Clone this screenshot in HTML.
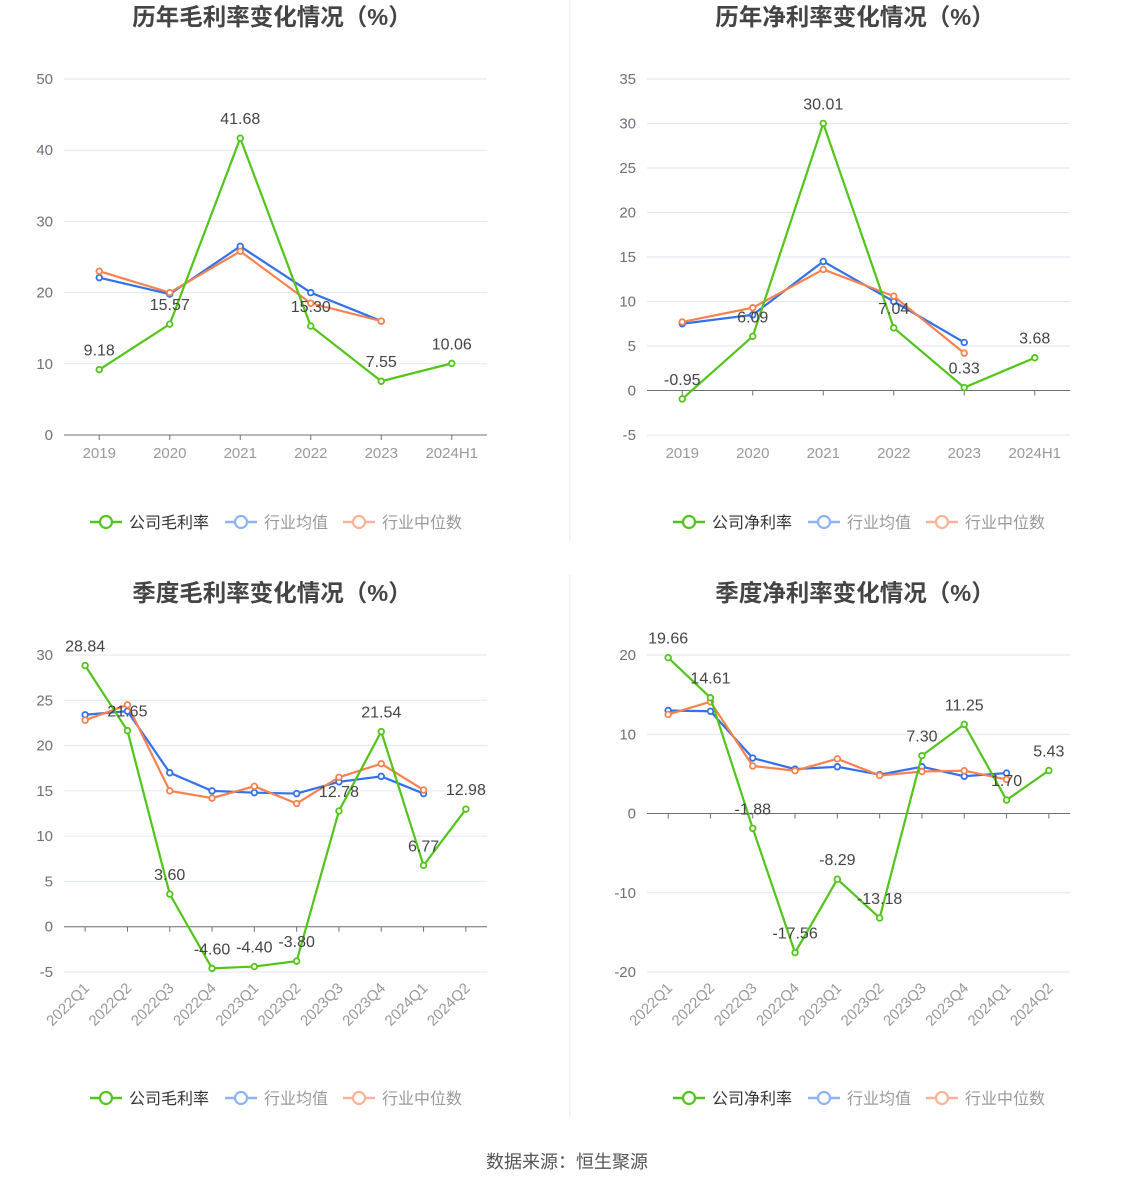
<!DOCTYPE html>
<html><head><meta charset="utf-8">
<style>
body{margin:0;background:#fff;width:1134px;height:1188px;overflow:hidden;font-family:"Liberation Sans","Noto Sans CJK SC",sans-serif;}
svg{position:absolute;left:0;top:0}
</style></head>
<body>
<svg id="s" width="1134" height="1188"></svg>
<script>
const annualCats=["2019","2020","2021","2022","2023","2024H1"];
const quarterCats=["2022Q1","2022Q2","2022Q3","2022Q4","2023Q1","2023Q2","2023Q3","2023Q4","2024Q1","2024Q2"];
const gmCompany=[9.18,15.57,41.68,15.30,7.55,10.06];
const gmAvg=[22.1,19.8,26.5,20.0,16.0];
const gmMed=[23.0,20.0,25.8,18.5,16.0];
const gmTicks=[0,10,20,30,40,50];
const nmCompany=[-0.95,6.09,30.01,7.04,0.33,3.68];
const nmAvg=[7.5,8.5,14.5,10.0,5.4];
const nmMed=[7.7,9.3,13.6,10.6,4.2];
const nmTicks=[-5,0,5,10,15,20,25,30,35];
const qgCompany=[28.84,21.65,3.60,-4.60,-4.40,-3.80,12.78,21.54,6.77,12.98];
const qgAvg=[23.4,23.8,17.0,15.0,14.8,14.7,16.0,16.6,14.7];
const qgMed=[22.8,24.5,15.0,14.2,15.5,13.6,16.5,18.0,15.1];
const qgTicks=[-5,0,5,10,15,20,25,30];
const qnCompany=[19.66,14.61,-1.88,-17.56,-8.29,-13.18,7.30,11.25,1.70,5.43];
const qnAvg=[13.0,12.9,7.0,5.6,5.9,4.9,5.9,4.7,5.1];
const qnMed=[12.5,14.1,6.0,5.4,6.9,4.8,5.3,5.4,4.3];
const qnTicks=[-20,-10,0,10,20];

const NS="http://www.w3.org/2000/svg";
const svg=document.getElementById('s');
function el(tag,attrs,parent,text){const e=document.createElementNS(NS,tag);for(const k in attrs)e.setAttribute(k,attrs[k]);if(text!==undefined)e.textContent=text;(parent||svg).appendChild(e);return e;}

function chart(o){
  const g=el('g',{});
  
  
  const t=el('text',{x:o.titleX,y:o.titleY,'text-anchor':'middle','font-size':23.5,'font-weight':'bold',fill:'#444'},g,o.title);
  
  
  const ticks=o.ticks,mn=ticks[0],mx=ticks[ticks.length-1];
  const y=v=>o.yb-(v-mn)/(mx-mn)*(o.yb-o.yt);
  const bw=(o.x1-o.x0)/o.cats.length;
  const x=i=>o.x0+bw*(i+0.5);
  ticks.forEach(v=>{
    el('line',{x1:o.x0,x2:o.x1,y1:y(v),y2:y(v),stroke:'#e0e6f1','stroke-width':1},g);
    const tl=el('text',{x:o.x0-11,y:y(v)+5,'text-anchor':'end','font-size':15,fill:'#6e7079'},g,String(v));
    
    
  });
  const y0=y(Math.max(mn,0));
  el('line',{x1:o.x0,x2:o.x1,y1:y0,y2:y0,stroke:'#6e7079','stroke-width':1},g);
  o.cats.forEach((c,i)=>{
    el('line',{x1:x(i),x2:x(i),y1:y0,y2:y0+5,stroke:'#6e7079'},g);
    let lab;
    if(o.rot){
      const lx=x(i)+5, ly=o.yb+17;
      lab=el('text',{x:lx,y:ly,'text-anchor':'end','font-size':15,fill:'#999',transform:`rotate(-45 ${lx} ${ly})`},g,c);
    } else {
      lab=el('text',{x:x(i),y:o.yb+23,'text-anchor':'middle','font-size':15,fill:'#999'},g,c);
    }
    
    
  });
  const series=[[o.avg,'#3370eb','industry-avg-line'],[o.med,'#f7814f','industry-median-line'],[o.comp,'#52c41a','company-line']];
  series.forEach(([d,col,nm])=>{
    const p=el('polyline',{points:d.map((v,i)=>x(i)+','+y(v)).join(' '),fill:'none',stroke:col,'stroke-width':2.2},g);
    
    
    d.forEach((v,i)=>{
      const c=el('circle',{cx:x(i),cy:y(v),r:2.8,fill:'#fff',stroke:col,'stroke-width':1.8},g);
      
      
    });
  });
  o.comp.forEach((v,i)=>{
    const l=el('text',{x:x(i),y:y(v)-14,'text-anchor':'middle','font-size':16,fill:'#444'},g,v.toFixed(2));
    
    
  });
  const lx=o.x0+26, ly=o.legY;
  const items=[[o.legName,'#52c41a','#333'],['行业均值','#8fb2f5','#999'],['行业中位数','#f9b39a','#999']];
  const offs=[0,135,253];
  items.forEach((it,k)=>{
    const lg=el('g',{},g);
    
    
    const bx=lx+offs[k];
    el('line',{x1:bx,x2:bx+32,y1:ly,y2:ly,stroke:it[1],'stroke-width':2.5},lg);
    el('circle',{cx:bx+16,cy:ly,r:6,fill:'#fff',stroke:it[1],'stroke-width':2.2},lg);
    el('text',{x:bx+39,y:ly+6,'font-size':16,fill:it[2]},lg,it[0]);
  });
}
chart({name:'annual-gross-margin-chart',title:'历年毛利率变化情况（%）',titleX:272,titleY:25,x0:64,x1:487,yt:79,yb:435,ticks:gmTicks,cats:annualCats,comp:gmCompany,avg:gmAvg,med:gmMed,legName:'公司毛利率',legY:522});
chart({name:'annual-net-margin-chart',title:'历年净利率变化情况（%）',titleX:855,titleY:25,x0:647,x1:1070,yt:79,yb:435,ticks:nmTicks,cats:annualCats,comp:nmCompany,avg:nmAvg,med:nmMed,legName:'公司净利率',legY:522});
chart({name:'quarterly-gross-margin-chart',title:'季度毛利率变化情况（%）',titleX:272,titleY:601,x0:64,x1:487,yt:655,yb:972,ticks:qgTicks,cats:quarterCats,comp:qgCompany,avg:qgAvg,med:qgMed,legName:'公司毛利率',legY:1098,rot:true});
chart({name:'quarterly-net-margin-chart',title:'季度净利率变化情况（%）',titleX:855,titleY:601,x0:647,x1:1070,yt:655,yb:972,ticks:qnTicks,cats:quarterCats,comp:qnCompany,avg:qnAvg,med:qnMed,legName:'公司净利率',legY:1098,rot:true});
const dv=el('line',{x1:570,x2:570,y1:0,y2:542,stroke:'#e8e8e8'});


const dv2=el('line',{x1:570,x2:570,y1:575,y2:1118,stroke:'#e8e8e8'});


const src=el('text',{x:567,y:1168,'text-anchor':'middle','font-size':18,fill:'#555'},svg,'数据来源：恒生聚源');


</script>
</body></html>
